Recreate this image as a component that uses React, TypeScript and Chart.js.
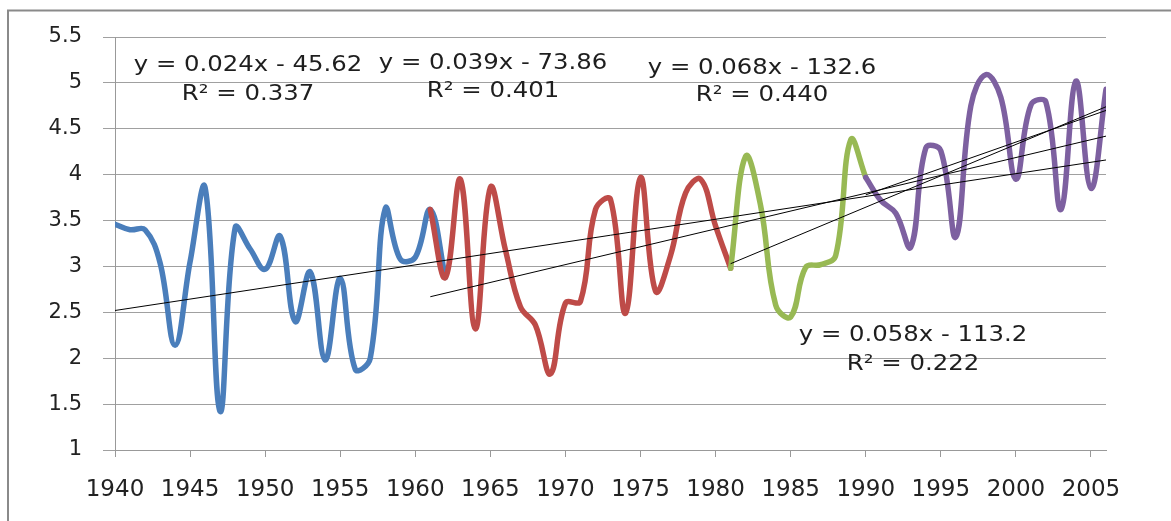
import React, { useEffect, useRef } from 'react';
import { Chart, registerables } from 'chart.js';

Chart.register(...registerables);

// ---- data ----
const blueYears = [1940, 1941, 1942, 1943, 1944, 1945, 1946, 1947, 1948, 1949, 1950, 1951, 1952, 1953, 1954, 1955, 1956, 1957, 1958, 1959, 1960, 1961, 1962];
const blueValues = [3.46, 3.4, 3.4, 3.04, 2.14, 3.05, 3.86, 1.42, 3.42, 3.19, 2.97, 3.33, 2.4, 2.94, 1.98, 2.87, 1.88, 2.0, 3.63, 3.08, 3.1, 3.62, 2.88];

const redYears = [1961, 1962, 1963, 1964, 1965, 1966, 1967, 1968, 1969, 1970, 1971, 1972, 1973, 1974, 1975, 1976, 1977, 1978, 1979, 1980, 1981];
const redValues = [3.62, 2.88, 3.95, 2.32, 3.86, 3.18, 2.56, 2.36, 1.83, 2.6, 2.62, 3.62, 3.73, 2.49, 3.97, 2.73, 3.12, 3.8, 3.95, 3.44, 2.98];

const greenYears = [1981, 1982, 1983, 1984, 1985, 1986, 1987, 1988, 1989, 1990];
const greenValues = [2.98, 4.2, 3.66, 2.58, 2.45, 2.99, 3.02, 3.12, 4.38, 3.97];

const purpleYears = [1990, 1991, 1992, 1993, 1994, 1995, 1996, 1997, 1998, 1999, 2000, 2001, 2002, 2003, 2004, 2005, 2006];
const purpleValues = [3.97, 3.72, 3.58, 3.21, 4.29, 4.26, 3.32, 4.75, 5.09, 4.84, 3.95, 4.76, 4.79, 3.62, 5.02, 3.85, 4.93];

// linear trend lines (start year/value, end year/value)
const trendStartYears = [1940, 1961, 1981, 1990];
const trendStartValues = [2.52, 2.67, 3.03, 3.78];
const trendEndYear = 2006;
const trendEndValues = [4.16, 4.42, 4.74, 4.70];

const equationLabels = ['y = 0.024x - 45.62', 'y = 0.039x - 73.86', 'y = 0.068x - 132.6', 'y = 0.058x - 113.2'];
const r2Labels = ['R² = 0.337', 'R² = 0.401', 'R² = 0.440', 'R² = 0.222'];

const seriesColors = ['#4a7ebb', '#be4b48', '#98b954', '#7d60a0'];

// label anchors (pixel centres) – layout only
const labelCenters = [
  { x: 248, y1: 63, y2: 92 },
  { x: 493, y1: 61, y2: 89 },
  { x: 762, y1: 66, y2: 93 },
  { x: 913, y1: 333, y2: 362 },
];

const FONT = '"DejaVu Sans", Verdana, sans-serif';

function pts(xs: number[], ys: number[]) {
  return xs.map((x, i) => ({ x, y: ys[i] }));
}

const framePlugin = {
  id: 'frame',
  beforeDraw(chart: any) {
    const ctx = chart.ctx;
    ctx.save();
    ctx.fillStyle = '#ffffff';
    ctx.fillRect(0, 0, chart.width, chart.height);
    ctx.strokeStyle = '#8a8a8a';
    ctx.lineWidth = 2;
    ctx.strokeRect(8, 10.5, chart.width + 20, chart.height + 20);
    ctx.restore();
  },
};

const labelPlugin = {
  id: 'eqLabels',
  afterDatasetsDraw(chart: any) {
    const ctx = chart.ctx;
    const size = 21;
    const stretch = 1.16;
    const off = size * 0.364;
    labelCenters.forEach((c, i) => {
      [equationLabels[i], r2Labels[i]].forEach((txt, k) => {
        ctx.save();
        ctx.fillStyle = '#1e1e1e';
        ctx.font = `${size}px ${FONT}`;
        ctx.textAlign = 'center';
        ctx.textBaseline = 'alphabetic';
        ctx.translate(c.x, (k === 0 ? c.y1 : c.y2) + off);
        ctx.scale(stretch, 1);
        ctx.fillText(txt, 0, 0);
        ctx.restore();
      });
    });
  },
};

export default function App() {
  const ref = useRef<HTMLCanvasElement>(null);

  useEffect(() => {
    const canvas = ref.current;
    if (!canvas) return;

    const trendSets = trendStartYears.map((sy, i) => ({
      data: [
        { x: sy, y: trendStartValues[i] },
        { x: trendEndYear, y: trendEndValues[i] },
      ],
      borderColor: '#000000',
      borderWidth: 1,
      pointRadius: 0,
      tension: 0,
      order: 0,
    }));

    const seriesSets = [
      pts(blueYears, blueValues),
      pts(redYears, redValues),
      pts(greenYears, greenValues),
      pts(purpleYears, purpleValues),
    ].map((d, i) => ({
      data: d,
      borderColor: seriesColors[i],
      borderWidth: 5.5,
      pointRadius: 0,
      tension: 0.4,
      borderCapStyle: 'round' as const,
      borderJoinStyle: 'round' as const,
      order: 4 - i,
    }));

    const chart = new Chart(canvas, {
      type: 'line',
      data: { datasets: [...trendSets, ...seriesSets] as any },
      options: {
        responsive: false,
        animation: false,
        devicePixelRatio: 1,
        layout: { padding: { top: 37, right: 65, left: 0, bottom: 0 } },
        plugins: {
          legend: { display: false },
          tooltip: { enabled: false },
        },
        scales: {
          x: {
            type: 'linear',
            min: 1940,
            max: 2006,
            afterFit: (s: any) => {
              s.height = 71;
            },
            ticks: {
              stepSize: 5,
              includeBounds: false,
              autoSkip: false,
              maxRotation: 0,
              minRotation: 0,
              padding: 19,
              color: '#222222',
              font: { family: FONT, size: 23 },
              callback: (v: any) => String(v),
            },
            grid: {
              drawOnChartArea: false,
              drawTicks: true,
              tickLength: 7,
              color: '#999999',
            },
            border: { color: '#999999', width: 1 },
          },
          y: {
            type: 'linear',
            min: 1,
            max: 5.5,
            afterFit: (s: any) => {
              s.width = 115;
            },
            ticks: {
              stepSize: 0.5,
              padding: 21,
              color: '#222222',
              font: { family: FONT, size: 21 },
              callback: (v: any) => String(v),
            },
            grid: {
              color: '#a0a0a0',
              tickLength: 12,
            },
            border: { color: '#999999', width: 1 },
          },
        },
      },
      plugins: [framePlugin, labelPlugin],
    });

    return () => chart.destroy();
  }, []);

  return (
    <div style={{ position: 'fixed', left: 0, top: 0, width: 1171, height: 521, background: '#fff' }}>
      <canvas ref={ref} width={1171} height={521} style={{ display: 'block' }} />
    </div>
  );
}
